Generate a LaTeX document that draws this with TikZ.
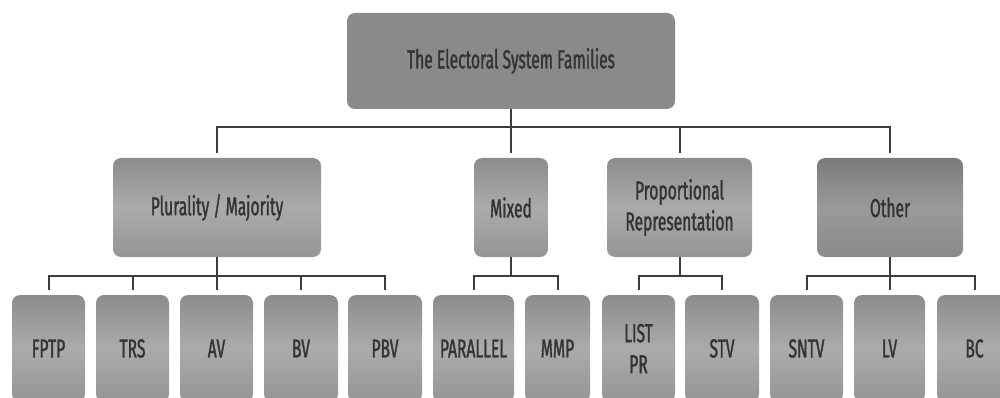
\documentclass[tikz,border=0pt]{standalone}
\usepackage{fontspec}
\setmainfont[FakeStretch=0.6, FakeBold=1.2]{Fira Sans}
\definecolor{txt}{HTML}{333333}
\definecolor{ln}{HTML}{3C3C3C}
\definecolor{gA}{HTML}{8C8C8C}
\definecolor{gB}{HTML}{ABABAB}
\definecolor{gC}{HTML}{959595}
\definecolor{oA}{HTML}{7A7A7A}
\definecolor{oB}{HTML}{9A9A9A}
\definecolor{oC}{HTML}{8A8A8A}
\definecolor{tp}{HTML}{8A8A8A}
\begin{document}
\begin{tikzpicture}[x=1pt,y=-1pt,
  box/.style={rounded corners=8pt, draw=none, text=txt, align=center, inner sep=0pt,
    font=\fontsize{26}{31}\selectfont},
  grad/.style={box, top color=gA, bottom color=gC, middle color=gB},
  darkgrad/.style={box, top color=oA, bottom color=oC, middle color=oB},
  lvltwo/.style={grad, minimum height=99pt},
  lvlthree/.style={grad, minimum height=107pt},
  conn/.style={draw=ln, line width=2pt}]
\useasboundingbox (0,0) rectangle (1000,398);
\begin{scope}
\clip (0,0) rectangle (1000,398);
% top
\node[box, fill=tp, minimum width=328pt, minimum height=96pt] (top) at (511,61) {The Electoral System Families};
% level 2
\node[lvltwo, minimum width=208pt] (plur) at (217,207.5) {Plurality / Majority};
\node[lvltwo, minimum width=74pt] (mixed) at (511,207.5) {Mixed};
\node[lvltwo, minimum width=145pt] (pr) at (679.5,207.5) {Proportional\\Representation};
\node[darkgrad, minimum width=146pt, minimum height=99pt] (other) at (890,207.5) {Other};
% level 3
\node[lvlthree, minimum width=73pt] (fptp) at (48.5,348.5) {FPTP};
\node[lvlthree, minimum width=73pt] (trs) at (132.5,348.5) {TRS};
\node[lvlthree, minimum width=73pt] (av) at (216.5,348.5) {AV};
\node[lvlthree, minimum width=74pt] (bv) at (301,348.5) {BV};
\node[lvlthree, minimum width=74pt] (pbv) at (385,348.5) {PBV};
\node[lvlthree, minimum width=81pt] (parallel) at (473.5,348.5) {PARALLEL};
\node[lvlthree, minimum width=65pt] (mmp) at (557.5,348.5) {MMP};
\node[lvlthree, minimum width=73pt] (listpr) at (638.5,348.5) {LIST\\PR};
\node[lvlthree, minimum width=74pt] (stv) at (722,348.5) {STV};
\node[lvlthree, minimum width=73pt] (sntv) at (806.5,348.5) {SNTV};
\node[lvlthree, minimum width=71pt] (lv) at (889.5,348.5) {LV};
\node[lvlthree, minimum width=75pt] (bc) at (974.5,348.5) {BC};
% connectors level 1 -> 2
\foreach \c in {plur,mixed,pr,other}
  \draw[conn] (top.south) -- ++(0,18) -| ([yshift=5pt]\c.north);
% connectors level 2 -> 3
\foreach \c in {fptp,trs,av,bv,pbv}
  \draw[conn] (plur.south) -- ++(0,19) -| ([yshift=5pt]\c.north);
\foreach \c in {parallel,mmp}
  \draw[conn] (mixed.south) -- ++(0,19) -| ([yshift=5pt]\c.north);
\foreach \c in {listpr,stv}
  \draw[conn] (pr.south) -- ++(0,19) -| ([yshift=5pt]\c.north);
\foreach \c in {sntv,lv,bc}
  \draw[conn] (other.south) -- ++(0,19) -| ([yshift=5pt]\c.north);
\end{scope}
\end{tikzpicture}
\end{document}
